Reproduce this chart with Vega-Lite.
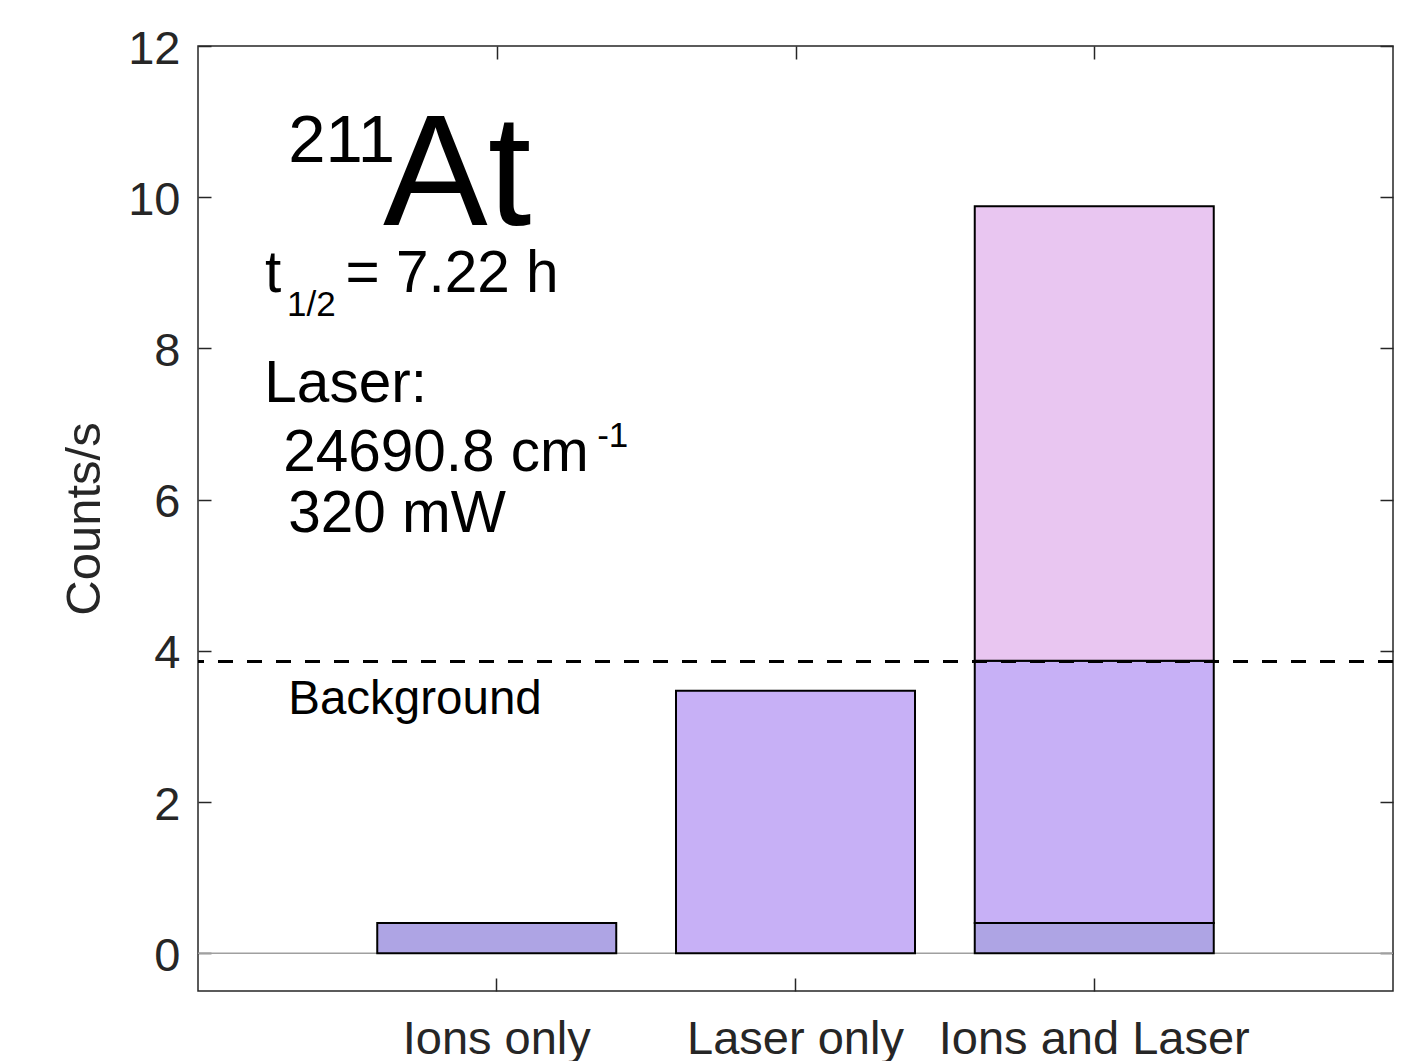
{
  "$schema": "https://vega.github.io/schema/vega-lite/v6.json",
  "width": 1195,
  "height": 945,
  "autosize": {"type": "none"},
  "padding": {"left": 198, "top": 46, "right": 19, "bottom": 70},
  "background": "white",
  "config": {
    "view": {"stroke": "#262626", "strokeWidth": 1.5},
    "font": "Liberation Sans",
    "axis": {
      "domain": false,
      "grid": false,
      "ticks": true,
      "tickSize": -13,
      "tickColor": "#262626",
      "tickWidth": 1.5,
      "labelFont": "Liberation Sans",
      "labelFontSize": 47,
      "labelColor": "#262626",
      "labelLimit": 1000,
      "titleFont": "Liberation Sans",
      "titleFontSize": 49,
      "titleFontWeight": "normal",
      "titleColor": "#262626"
    }
  },
  "resolve": {"scale": {"x": "independent"}, "axis": {"x": "independent", "y": "independent"}},
  "layer": [
    {
      "data": {"values": [{"level": 0}]},
      "mark": {"type": "rule", "color": "#a0a0a0", "strokeWidth": 1.5},
      "encoding": {
        "y": {"field": "level", "type": "quantitative", "scale": {"domain": [-0.5, 12], "nice": false, "zero": false}, "axis": null}
      }
    },
    {
      "data": {"values": [
        {"group": "Ions only", "component": "Ions", "low": 0, "high": 0.4},
        {"group": "Laser only", "component": "Laser", "low": 0, "high": 3.47},
        {"group": "Ions and Laser", "component": "Ions", "low": 0, "high": 0.4},
        {"group": "Ions and Laser", "component": "Laser", "low": 0.4, "high": 3.87},
        {"group": "Ions and Laser", "component": "Signal", "low": 3.87, "high": 9.88}
      ]},
      "mark": {"type": "bar", "stroke": "black", "strokeWidth": 2, "opacity": 1},
      "encoding": {
        "x": {
          "field": "group", "type": "nominal",
          "scale": {"domain": ["Ions only", "Laser only", "Ions and Laser"], "paddingInner": 0.2, "paddingOuter": 0.6},
          "axis": {"orient": "bottom", "title": null, "labelAngle": 0, "labelPadding": 38}
        },
        "y": {
          "field": "high", "type": "quantitative",
          "scale": {"domain": [-0.5, 12], "nice": false, "zero": false},
          "axis": {"orient": "left", "values": [0, 2, 4, 6, 8, 10, 12], "title": "Counts/s", "labelPadding": 31, "labelOffset": 3, "titlePadding": 18}
        },
        "y2": {"field": "low"},
        "color": {
          "field": "component", "type": "nominal",
          "scale": {"domain": ["Ions", "Laser", "Signal"], "range": ["#aea4e4", "#c7b0f6", "#e9c6f1"]},
          "legend": null
        }
      }
    },
    {
      "data": {"values": [{"level": 3.86}]},
      "mark": {"type": "rule", "color": "black", "strokeWidth": 3, "strokeDash": [15, 14]},
      "encoding": {
        "y": {"field": "level", "type": "quantitative", "scale": {"domain": [-0.5, 12], "nice": false, "zero": false}, "axis": null}
      }
    },
    {
      "data": {"values": [
        {"text": "t", "px": 0.224, "py": 8.75},
        {"text": "= 7.22 h", "px": 0.494, "py": 8.75},
        {"text": "Laser:", "px": 0.222, "py": 7.29},
        {"text": "24690.8 cm", "px": 0.285, "py": 6.38},
        {"text": "320 mW", "px": 0.302, "py": 5.57}
      ]},
      "mark": {"type": "text", "align": "left", "baseline": "alphabetic", "fontSize": 58.5, "color": "black"},
      "encoding": {
        "x": {"field": "px", "type": "quantitative", "scale": {"domain": [0, 4], "nice": false, "zero": false},
              "axis": {"orient": "top", "values": [1, 2, 3], "labels": false, "title": null}},
        "y": {"field": "py", "type": "quantitative", "scale": {"domain": [-0.5, 12], "nice": false, "zero": false},
              "axis": {"orient": "right", "values": [0, 2, 4, 6, 8, 10, 12], "labels": false, "title": null}},
        "text": {"field": "text"}
      }
    },
    {
      "data": {"values": [
        {"text": "At", "px": 0.619, "py": 9.63}
      ]},
      "mark": {"type": "text", "align": "left", "baseline": "alphabetic", "fontSize": 157, "color": "black"},
      "encoding": {
        "x": {"field": "px", "type": "quantitative", "scale": {"domain": [0, 4], "nice": false, "zero": false}, "axis": null},
        "y": {"field": "py", "type": "quantitative", "scale": {"domain": [-0.5, 12], "nice": false, "zero": false}, "axis": null},
        "text": {"field": "text"}
      }
    },
    {
      "data": {"values": [
        {"text": "211", "px": 0.302, "py": 10.47}
      ]},
      "mark": {"type": "text", "align": "left", "baseline": "alphabetic", "fontSize": 67, "color": "black"},
      "encoding": {
        "x": {"field": "px", "type": "quantitative", "scale": {"domain": [0, 4], "nice": false, "zero": false}, "axis": null},
        "y": {"field": "py", "type": "quantitative", "scale": {"domain": [-0.5, 12], "nice": false, "zero": false}, "axis": null},
        "text": {"field": "text"}
      }
    },
    {
      "data": {"values": [
        {"text": "1/2", "px": 0.298, "py": 8.43},
        {"text": "-1", "px": 1.336, "py": 6.7}
      ]},
      "mark": {"type": "text", "align": "left", "baseline": "alphabetic", "fontSize": 35, "color": "black"},
      "encoding": {
        "x": {"field": "px", "type": "quantitative", "scale": {"domain": [0, 4], "nice": false, "zero": false}, "axis": null},
        "y": {"field": "py", "type": "quantitative", "scale": {"domain": [-0.5, 12], "nice": false, "zero": false}, "axis": null},
        "text": {"field": "text"}
      }
    },
    {
      "data": {"values": [
        {"text": "Background", "px": 0.302, "py": 3.16}
      ]},
      "mark": {"type": "text", "align": "left", "baseline": "alphabetic", "fontSize": 47.5, "color": "black"},
      "encoding": {
        "x": {"field": "px", "type": "quantitative", "scale": {"domain": [0, 4], "nice": false, "zero": false}, "axis": null},
        "y": {"field": "py", "type": "quantitative", "scale": {"domain": [-0.5, 12], "nice": false, "zero": false}, "axis": null},
        "text": {"field": "text"}
      }
    }
  ]
}
